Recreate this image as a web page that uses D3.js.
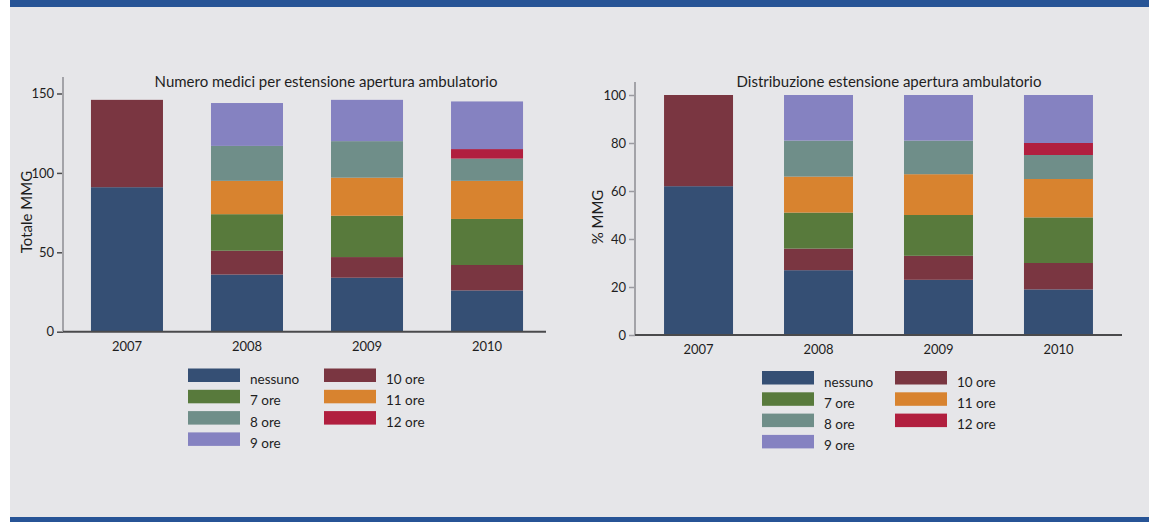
<!DOCTYPE html>
<html>
<head>
<meta charset="utf-8">
<script src="https://cdn.jsdelivr.net/npm/d3@7"></script>
<style>
  body { margin: 0; background: #ffffff; }
  svg text { font-family: Lato, "Open Sans", sans-serif; fill: #1e1e1e; }
</style>
</head>
<body>
<div id="chart"></div>
<script>
// years on the x axis
const years = ["2007", "2008", "2009", "2010"];

// stack order, bottom to top (also the legend order, row by row)
const categories = ["nessuno", "10 ore", "7 ore", "11 ore", "8 ore", "12 ore", "9 ore"];
const colors = ["#354f74", "#7a3641", "#587a3c", "#d8832f", "#6f8e89", "#b11f3f", "#8582c1"];

// number of GPs per category, one value per year
const countNessuno = [91, 36, 34, 26];
const count10 = [55, 15, 13, 16];
const count7 = [0, 23, 26, 29];
const count11 = [0, 21, 24, 24];
const count8 = [0, 22, 23, 14];
const count12 = [0, 0, 0, 6];
const count9 = [0, 27, 26, 30];

// share of GPs (%) per category, one value per year
const pctNessuno = [62, 27, 23, 19];
const pct10 = [38, 9, 10, 11];
const pct7 = [0, 15, 17, 19];
const pct11 = [0, 15, 17, 16];
const pct8 = [0, 15, 14, 10];
const pct12 = [0, 0, 0, 5];
const pct9 = [0, 19, 19, 20];

const countTicks = [0, 50, 100, 150];
const pctTicks = [0, 20, 40, 60, 80, 100];

const W = 1149, H = 522;

const svg = d3.select("#chart").append("svg")
    .attr("width", W)
    .attr("height", H);

// panel background and the two blue bands
svg.append("rect").attr("x", 10).attr("y", 0).attr("width", W - 10).attr("height", H).attr("fill", "#e6e6e9");
svg.append("rect").attr("x", 10).attr("y", 0).attr("width", W - 10).attr("height", 7).attr("fill", "#275496");
svg.append("rect").attr("x", 10).attr("y", 517).attr("width", W - 10).attr("height", 5).attr("fill", "#275496");

function buildRows(series) {
    // one object per year: {year, nessuno: .., "10 ore": .., ...}
    return years.map((y, i) => {
        let row = { year: y };
        categories.forEach((c, k) => { row[c] = series[k][i]; });
        return row;
    });
}

function drawStack(config) {
    const g = svg.append("g");

    const x = d3.scaleBand()
        .domain(years)
        .range([config.left, config.right])
        .paddingInner(config.padIn)
        .paddingOuter(config.padOut);

    const y = d3.scaleLinear()
        .domain([0, config.max])
        .range([config.bottom, config.top]);

    const stacked = d3.stack().keys(categories)(buildRows(config.series));

    //bars
    g.selectAll("g.layer")
        .data(stacked)
        .enter().append("g")
        .attr("class", "layer")
        .attr("fill", (d, i) => colors[i])
        .selectAll("rect")
        .data((d) => d)
        .enter().append("rect")
        .attr("x", (d) => x(d.data.year))
        .attr("y", (d) => y(d[1]))
        .attr("width", x.bandwidth())
        .attr("height", (d) => Math.max(0, y(d[0]) - y(d[1])));

    //y axis
    const yAxis = g.append("g")
        .attr("transform", "translate(" + config.left + ",0)")
        .call(d3.axisLeft(y).tickValues(config.ticks).tickSize(6).tickPadding(3));
    yAxis.select(".domain").remove();
    yAxis.selectAll(".tick line").attr("stroke", config.tickColor).attr("stroke-width", 1.5);
    yAxis.selectAll(".tick text").style("font-size", "13px").attr("fill", "#1e1e1e");
    g.append("line")
        .attr("x1", config.left).attr("x2", config.left)
        .attr("y1", config.axisTop).attr("y2", config.bottom)
        .attr("stroke", "#a3a3a8").attr("stroke-width", 2);

    //x axis
    const xAxis = g.append("g")
        .attr("transform", "translate(0," + config.bottom + ")")
        .call(d3.axisBottom(x).tickSize(0).tickPadding(10));
    xAxis.select(".domain").remove();
    xAxis.selectAll(".tick text").style("font-size", "13px").attr("fill", "#1e1e1e");
    g.append("line")
        .attr("x1", config.left).attr("x2", config.axisRight)
        .attr("y1", config.bottom).attr("y2", config.bottom)
        .attr("stroke", "#4a4a4c").attr("stroke-width", 2);

    //titles
    g.append("text")
        .attr("x", config.titleX)
        .attr("y", 87)
        .attr("text-anchor", "middle")
        .style("font-size", "15px")
        .text(config.title);

    g.append("text")
        .attr("transform", "translate(" + config.labelX + "," + config.labelY + ") rotate(-90)")
        .attr("text-anchor", "middle")
        .style("font-size", "15px")
        .text(config.label);

    //legend, two columns filled row by row
    const legend = g.selectAll("g.legend")
        .data(categories)
        .enter().append("g")
        .attr("class", "legend")
        .attr("transform", (d, i) => "translate(" + config.legendCols[i % 2] + "," + (config.legendTop + Math.floor(i / 2) * 21.3) + ")");

    legend.append("rect")
        .attr("width", 52)
        .attr("height", 13.5)
        .attr("fill", (d, i) => colors[i]);

    legend.append("text")
        .attr("x", 62)
        .attr("y", 15.5)
        .style("font-size", "13.5px")
        .text((d) => d);
}

drawStack({
    series: [countNessuno, count10, count7, count11, count8, count12, count9],
    max: 150,
    ticks: countTicks,
    left: 63, right: 551, padIn: 0.4, padOut: 0.233, axisRight: 546,
    top: 93.5, bottom: 331.7, axisTop: 77,
    tickColor: "#4a4a4c",
    title: "Numero medici per estensione apertura ambulatorio",
    titleX: 326,
    label: "Totale MMG", labelX: 32, labelY: 212,
    legendCols: [188, 324], legendTop: 368.5
});

drawStack({
    series: [pctNessuno, pct10, pct7, pct11, pct8, pct12, pct9],
    max: 100,
    ticks: pctTicks,
    left: 635, right: 1122, padIn: 0.425, padOut: 0.242, axisRight: 1122,
    top: 95, bottom: 335, axisTop: 82,
    tickColor: "#9a9aa0",
    title: "Distribuzione estensione apertura ambulatorio",
    titleX: 889,
    label: "% MMG", labelX: 603, labelY: 217,
    legendCols: [762, 895], legendTop: 371
});
</script>
</body>
</html>
